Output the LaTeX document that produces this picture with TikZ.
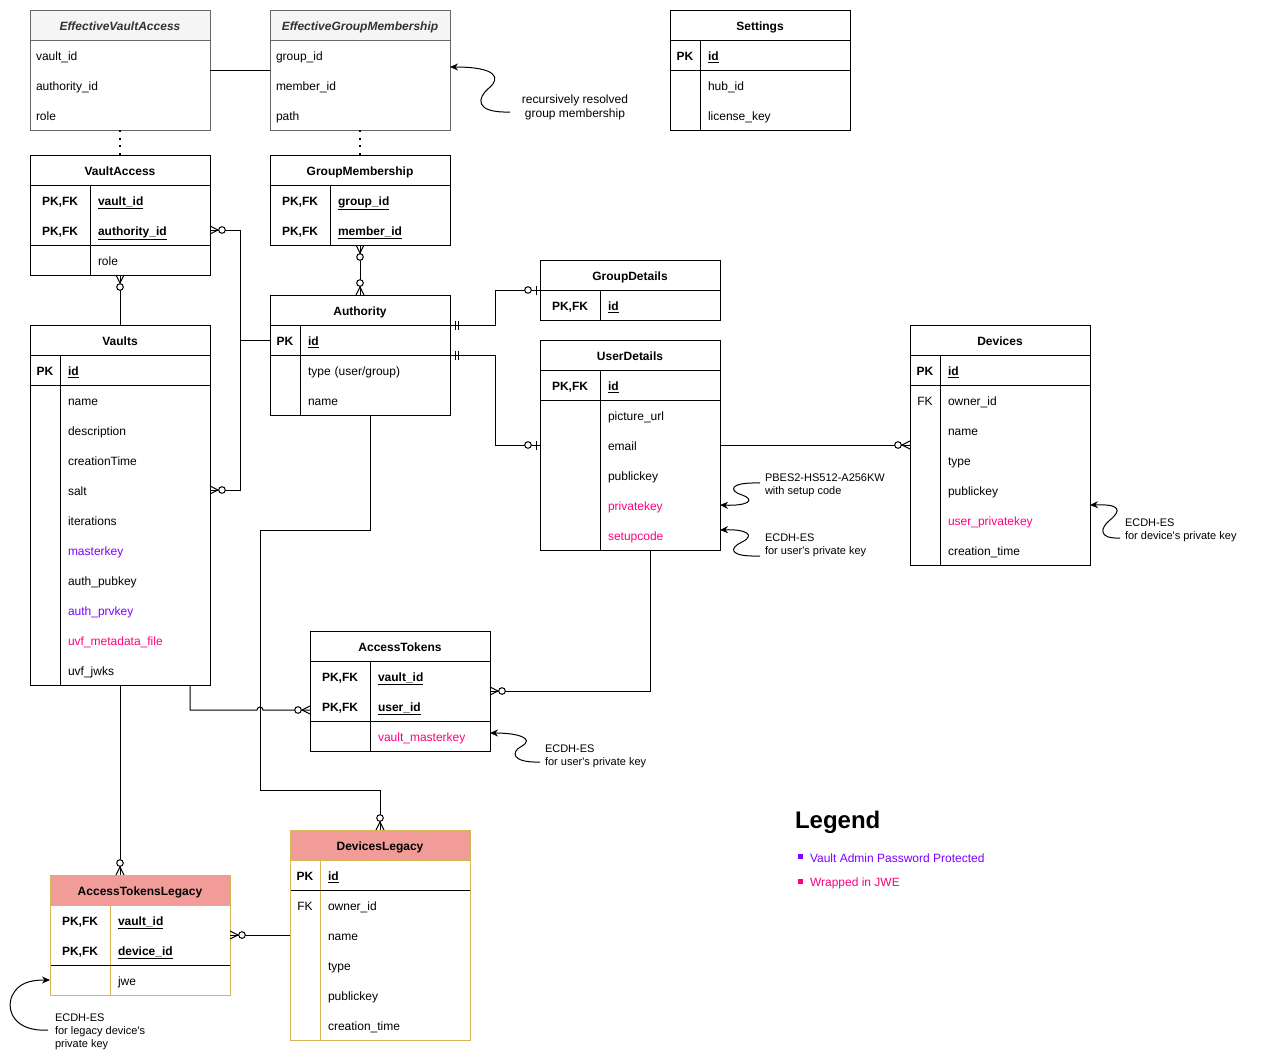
\documentclass[tikz,border=0pt]{standalone}
\usepackage{fontspec}
\setmainfont{Liberation Sans}
\usetikzlibrary{arrows.meta}
\definecolor{adminviolet}{HTML}{7F00FF}
\definecolor{jwepink}{HTML}{FF0080}
\definecolor{viewline}{HTML}{666666}
\definecolor{viewfill}{HTML}{F5F5F5}
\definecolor{viewtext}{HTML}{333333}
\definecolor{legacyfill}{HTML}{F19C99}
\definecolor{legacyline}{HTML}{D6B656}

\tikzset{
  zeromany/.pic={\draw (0,-4) -- (8,0) -- (0,4); \draw[fill=white] (12,0) circle[radius=3.3];},
  onlyone/.pic={\draw (5,-4.5) -- (5,4.5) (8,-4.5) -- (8,4.5);},
  zeroone/.pic={\draw (4,-4.5) -- (4,4.5); \draw[fill=white] (12,0) circle[radius=3.3];},
}

\begin{document}
\begin{tikzpicture}[x=1pt, y=-1pt, line width=1pt,
  every node/.style={inner sep=0pt, outer sep=0pt, font=\fontsize{12}{14}\selectfont},
  erbox/.style={draw=black, fill=white, anchor=north west, minimum width=180pt, minimum height=#1},
  ertitle/.style={draw=black, anchor=north west, minimum width=180pt, minimum height=30pt,
    font=\fontsize{12}{14}\selectfont\bfseries, text height=10.6pt, text depth=0pt},
  erkey/.style={anchor=west, minimum width=#1, minimum height=30pt,
    font=\fontsize{12}{14}\selectfont\bfseries, text height=10.6pt, text depth=0pt},
  erfield/.style={anchor=west, minimum height=30pt, inner xsep=8pt, text width=#1, align=left,
    text height=10.6pt, text depth=0pt},
  ernote/.style={anchor=west, align=left, font=\fontsize{11}{13}\selectfont},
  relation/.style={draw=black, line width=1pt},
  viewlink/.style={draw=black, line width=1.2pt, dash pattern=on 2pt off 5.6pt},
  annot/.style={draw=black, line width=1pt, -{Stealth[length=8pt,width=7pt]}},
]
\fill[white] (0,0) rectangle (1261,1061);
\useasboundingbox (0,0) rectangle (1261,1061);

% ---------- EffectiveVaultAccess (view)
\node[erbox=120pt, draw=viewline] (eva) at (30,10) {};
\node[ertitle, draw=viewline, fill=viewfill, text=viewtext,
  font=\fontsize{12}{14}\selectfont\bfseries\itshape] (eva-title) at (30,10) {EffectiveVaultAccess};
\node[erfield=168pt, inner xsep=6pt] (eva-vault) at (30,55) {vault\_id};
\node[erfield=168pt, inner xsep=6pt] (eva-authority) at (30,85) {authority\_id};
\node[erfield=168pt, inner xsep=6pt] (eva-role) at (30,115) {role};

% ---------- EffectiveGroupMembership (view)
\node[erbox=120pt, draw=viewline] (egm) at (270,10) {};
\node[ertitle, draw=viewline, fill=viewfill, text=viewtext,
  font=\fontsize{12}{14}\selectfont\bfseries\itshape] (egm-title) at (270,10) {EffectiveGroupMembership};
\node[erfield=168pt, inner xsep=6pt] (egm-group) at (270,55) {group\_id};
\node[erfield=168pt, inner xsep=6pt] (egm-member) at (270,85) {member\_id};
\node[erfield=168pt, inner xsep=6pt] (egm-path) at (270,115) {path};

% ---------- Settings
\node[erbox=120pt] (settings) at (670,10) {};
\node[ertitle] (settings-title) at (670,10) {Settings};
\node[erkey=30pt] (settings-pk) at (670,55) {PK};
\node[erfield=134pt] (settings-id) at (700,55) {\underline{\textbf{id}}};
\node[erfield=134pt] (settings-hub) at (700,85) {hub\_id};
\node[erfield=134pt] (settings-license) at (700,115) {license\_key};
\draw (670,70) -- (850,70) (700,40) -- (700,130);

% ---------- VaultAccess
\node[erbox=120pt] (va) at (30,155) {};
\node[ertitle] (va-title) at (30,155) {VaultAccess};
\node[erkey=60pt] (va-pk1) at (30,200) {PK,FK};
\node[erkey=60pt] (va-pk2) at (30,230) {PK,FK};
\node[erfield=104pt] (va-vault) at (90,200) {\underline{\textbf{vault\_id}}};
\node[erfield=104pt] (va-authority) at (90,230) {\underline{\textbf{authority\_id}}};
\node[erfield=104pt] (va-role) at (90,260) {role};
\draw (30,245) -- (210,245) (90,185) -- (90,275);

% ---------- GroupMembership
\node[erbox=90pt] (gm) at (270,155) {};
\node[ertitle] (gm-title) at (270,155) {GroupMembership};
\node[erkey=60pt] (gm-pk1) at (270,200) {PK,FK};
\node[erkey=60pt] (gm-pk2) at (270,230) {PK,FK};
\node[erfield=104pt] (gm-group) at (330,200) {\underline{\textbf{group\_id}}};
\node[erfield=104pt] (gm-member) at (330,230) {\underline{\textbf{member\_id}}};
\draw (330,185) -- (330,245);

% ---------- Authority
\node[erbox=120pt] (authority) at (270,295) {};
\node[ertitle] (authority-title) at (270,295) {Authority};
\node[erkey=30pt] (authority-pk) at (270,340) {PK};
\node[erfield=134pt] (authority-id) at (300,340) {\underline{\textbf{id}}};
\node[erfield=134pt] (authority-type) at (300,370) {type (user/group)};
\node[erfield=134pt] (authority-name) at (300,400) {name};
\draw (270,355) -- (450,355) (300,325) -- (300,415);

% ---------- GroupDetails
\node[erbox=60pt] (gd) at (540,260) {};
\node[ertitle] (gd-title) at (540,260) {GroupDetails};
\node[erkey=60pt] (gd-pk) at (540,305) {PK,FK};
\node[erfield=104pt] (gd-id) at (600,305) {\underline{\textbf{id}}};
\draw (600,290) -- (600,320);

% ---------- UserDetails
\node[erbox=210pt] (ud) at (540,340) {};
\node[ertitle] (ud-title) at (540,340) {UserDetails};
\node[erkey=60pt] (ud-pk) at (540,385) {PK,FK};
\node[erfield=104pt] (ud-id) at (600,385) {\underline{\textbf{id}}};
\foreach \nm/\txt/\col [count=\i from 0] in
  {picture/picture\_url/black, email/email/black, publickey/publickey/black,
   privatekey/privatekey/jwepink, setupcode/setupcode/jwepink}
  \node[erfield=104pt, text=\col] (ud-\nm) at (600,{415+30*\i}) {\txt};
\draw (540,400) -- (720,400) (600,370) -- (600,550);

% ---------- Devices
\node[erbox=240pt] (dev) at (910,325) {};
\node[ertitle] (dev-title) at (910,325) {Devices};
\node[erkey=30pt] (dev-pk) at (910,370) {PK};
\node[erfield=134pt] (dev-id) at (940,370) {\underline{\textbf{id}}};
\node[erkey=30pt, font=\fontsize{12}{14}\selectfont] (dev-fk) at (910,400) {FK};
\foreach \nm/\txt/\col [count=\i from 0] in
  {owner/owner\_id/black, name/name/black, type/type/black, publickey/publickey/black,
   userpriv/user\_privatekey/jwepink, created/creation\_time/black}
  \node[erfield=134pt, text=\col] (dev-\nm) at (940,{400+30*\i}) {\txt};
\draw (910,385) -- (1090,385) (940,355) -- (940,565);

% ---------- Vaults
\node[erbox=360pt] (vaults) at (30,325) {};
\node[ertitle] (vaults-title) at (30,325) {Vaults};
\node[erkey=30pt] (vaults-pk) at (30,370) {PK};
\node[erfield=134pt] (vaults-id) at (60,370) {\underline{\textbf{id}}};
\foreach \nm/\txt/\col [count=\i from 0] in
  {name/name/black, description/description/black, created/creationTime/black,
   salt/salt/black, iterations/iterations/black, masterkey/masterkey/adminviolet,
   authpub/auth\_pubkey/black, authprv/auth\_prvkey/adminviolet,
   metadata/uvf\_metadata\_file/jwepink, jwks/uvf\_jwks/black}
  \node[erfield=134pt, text=\col] (vaults-\nm) at (60,{400+30*\i}) {\txt};
\draw (30,385) -- (210,385) (60,355) -- (60,685);

% ---------- AccessTokens
\node[erbox=120pt] (at) at (310,631) {};
\node[ertitle] (at-title) at (310,631) {AccessTokens};
\node[erkey=60pt] (at-pk1) at (310,676) {PK,FK};
\node[erkey=60pt] (at-pk2) at (310,706) {PK,FK};
\node[erfield=104pt] (at-vault) at (370,676) {\underline{\textbf{vault\_id}}};
\node[erfield=104pt] (at-user) at (370,706) {\underline{\textbf{user\_id}}};
\node[erfield=104pt, text=jwepink] (at-masterkey) at (370,736) {vault\_masterkey};
\draw (310,721) -- (490,721) (370,661) -- (370,751);

% ---------- DevicesLegacy
\node[erbox=210pt, draw=legacyline] (dl) at (290,830) {};
\node[ertitle, draw=legacyline, fill=legacyfill] (dl-title) at (290,830) {DevicesLegacy};
\node[erkey=30pt] (dl-pk) at (290,875) {PK};
\node[erfield=134pt] (dl-id) at (320,875) {\underline{\textbf{id}}};
\node[erkey=30pt, font=\fontsize{12}{14}\selectfont] (dl-fk) at (290,905) {FK};
\foreach \nm/\txt [count=\i from 0] in
  {owner/owner\_id, name/name, type/type, publickey/publickey, created/creation\_time}
  \node[erfield=134pt] (dl-\nm) at (320,{905+30*\i}) {\txt};
\draw[legacyline] (320,860) -- (320,1040);
\draw (290.5,890) -- (469.5,890);

% ---------- AccessTokensLegacy
\node[erbox=120pt, draw=legacyline] (atl) at (50,875) {};
\node[ertitle, draw=legacyline, fill=legacyfill] (atl-title) at (50,875) {AccessTokensLegacy};
\node[erkey=60pt] (atl-pk1) at (50,920) {PK,FK};
\node[erkey=60pt] (atl-pk2) at (50,950) {PK,FK};
\node[erfield=104pt] (atl-vault) at (110,920) {\underline{\textbf{vault\_id}}};
\node[erfield=104pt] (atl-device) at (110,950) {\underline{\textbf{device\_id}}};
\node[erfield=104pt] (atl-jwe) at (110,980) {jwe};
\draw[legacyline] (110,905) -- (110,995);
\draw (50.5,965) -- (229.5,965);

% ---------- relations
\draw[relation] (eva.east) -- (egm.west);
\draw[viewlink] (eva.south) -- (va.north);
\draw[viewlink] (egm.south) -- (gm.north);

\draw[relation] (va.south) -- (vaults.north);
\pic[rotate=-90] at (va.south) {zeromany};

\draw[relation] (gm.south) -- (authority.north);
\pic[rotate=-90] at (gm.south) {zeromany};
\pic[rotate=90] at (authority.north) {zeromany};

\draw[relation] (va-authority.east) -- ++(30,0) |- (authority.west |- authority-id.west);
\pic at (va-authority.east) {zeromany};
\draw[relation] (vaults-salt.east) -- ++(30,0) |- (authority.west |- authority-id.west);
\pic at (vaults-salt.east) {zeromany};

\draw[relation] (authority-title.south east) -- ++(45,0) |- (gd-title.south west);
\pic at (authority-title.south east) {onlyone};
\pic[rotate=180] at (gd-title.south west) {zeroone};

\draw[relation] (authority-id.south east) -- ++(45,0) |- (ud.west |- ud-email.west);
\pic at (authority-id.south east) {onlyone};
\pic[rotate=180] at (ud.west |- ud-email.west) {zeroone};

\draw[relation] (ud-email.east) -- (dev.west |- ud-email.east);
\pic[rotate=180] at (dev.west |- ud-email.east) {zeromany};

\draw[relation] ([xshift=20pt]ud.south) |- (at.east);
\pic at (at.east) {zeromany};

\draw[relation] ([xshift=10pt]authority.south) -- ++(0,115) -| ++(-110,260) -| (dl.north);
\pic[rotate=90] at (dl.north) {zeromany};

\draw[relation] ([xshift=70pt]vaults.south) -- ++(0,25) -- ++(67,0)
  arc[start angle=180, end angle=360, radius=3] -- ([yshift=-19pt]at.west);
\pic[rotate=180] at ([yshift=-19pt]at.west) {zeromany};

\draw[relation] (vaults.south) -- (vaults.south |- atl.north);
\pic[rotate=90] at (vaults.south |- atl.north) {zeromany};

\draw[relation] (dl.west |- dl-name.west) -- (atl.east);
\pic at (atl.east) {zeromany};

% ---------- annotations
\node[align=center] (egm-note) at (575,107) {recursively resolved\\group membership};
\coordinate (egm-tail) at (510,112);
\draw[annot] (egm-tail) .. controls (474,113) and (477,98) .. (489,88)
  .. controls (501,78) and (497,67) .. ([yshift=3pt]egm.east);

\node[ernote] (pbes-note) at (765,485.5) {PBES2-HS512-A256KW\\with setup code};
\coordinate (pbes-tail) at (760,483);
\draw[annot] (pbes-tail) .. controls (728,482) and (729,491) .. (742,495)
  .. controls (756,500) and (748,506) .. (ud-privatekey.east);

\node[ernote] (user-note) at (765,545.5) {ECDH-ES\\for user\textquotesingle s private key};
\coordinate (user-tail) at (760,556);
\draw[annot] (user-tail) .. controls (728,557) and (729,548) .. (742,542)
  .. controls (756,535) and (746,529) .. ([yshift=5pt]ud-setupcode.east);

\node[ernote] (device-note) at (1125,530.5) {ECDH-ES\\for device\textquotesingle s private key};
\coordinate (device-tail) at (1120,538);
\draw[annot] (device-tail) .. controls (1098,539) and (1100,528) .. (1110,520)
  .. controls (1122,510) and (1120,504) .. (dev-userpriv.north east);

\node[ernote] (token-note) at (545,756.5) {ECDH-ES\\for user\textquotesingle s private key};
\coordinate (token-tail) at (540,762);
\draw[annot] (token-tail) .. controls (512,763) and (510,752) .. (522,746)
  .. controls (534,739) and (520,733) .. ([yshift=3pt]at-masterkey.east);

\node[ernote] (legacy-note) at (55,1032) {ECDH-ES\\for legacy device\textquotesingle s\\private key};
\coordinate (legacy-tail) at (48,1030);
\draw[annot] (legacy-tail) .. controls (14,1032) and (6,1010) .. (12,996)
  .. controls (18,983) and (30,980) .. (atl.west |- atl-jwe.west);

% ---------- legend
\node[anchor=base west, font=\fontsize{24}{28}\selectfont\bfseries] (legend) at (795,828) {Legend};
\node[fill=adminviolet, minimum size=5pt] (legend-admin-mark) at (800.5,856.5) {};
\node[anchor=west, text=adminviolet] (legend-admin) at (810,858.5) {Vault Admin Password Protected};
\node[fill=jwepink, minimum size=5pt] (legend-jwe-mark) at (800.5,881.5) {};
\node[anchor=west, text=jwepink] (legend-jwe) at (810,883.5) {Wrapped in JWE};
\end{tikzpicture}
\end{document}
